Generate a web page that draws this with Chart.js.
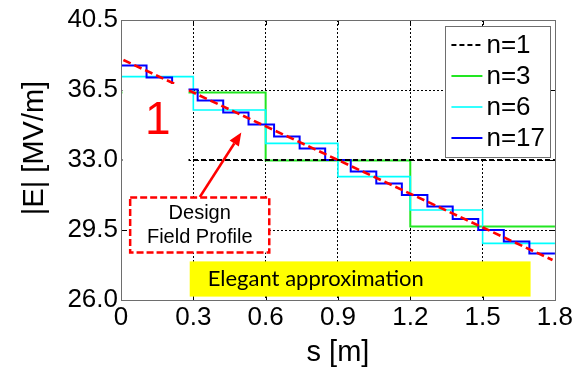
<!DOCTYPE html>
<html>
<head>
<meta charset="utf-8">
<script src="https://cdn.jsdelivr.net/npm/chart.js@4"></script>
<style>
  html, body { margin: 0; padding: 0; background: #fff; }
  #wrap { width: 575px; height: 367px; }
</style>
</head>
<body>
<div id="wrap"><canvas id="fieldChart"></canvas></div>
<script>
const sTickLabels = ['0', '0.3', '0.6', '0.9', '1.2', '1.5', '1.8'];
const eTickLabels = ['26.0', '29.5', '33.0', '36.5', '40.5'];

// design field profile (straight line)
const designS = [0.01, 1.79];
const designE = [38.0, 28.0];

// piecewise-constant approximations: segment edges + level of each segment
const n1Edges = [0, 1.8];
const n1Values = [33.0];
const n3Edges = [0, 0.6, 1.2, 1.8];
const n3Values = [36.38, 32.97, 29.67];
const n6Edges = [0, 0.3, 0.6, 0.9, 1.2, 1.5, 1.8];
const n6Values = [37.17, 35.5, 33.83, 32.17, 30.5, 28.83];
const n17Edges = [0, 0.106, 0.212, 0.318, 0.424, 0.529, 0.635, 0.741, 0.847,
  0.953, 1.059, 1.165, 1.271, 1.376, 1.482, 1.588, 1.694, 1.8];
const n17Values = [37.72, 37.13, 36.53, 35.97, 35.37, 34.77, 34.17, 33.58, 33.0,
  32.42, 31.83, 31.25, 30.67, 30.05, 29.5, 28.92, 28.33];

const FONT = '"Liberation Sans", Arial, sans-serif';

const stepPoints = (edges, values) =>
  values.map((v, i) => ({ x: edges[i], y: v }))
    .concat([{ x: edges[edges.length - 1], y: values[values.length - 1] }]);

const legendItems = ['n=1', 'n=3', 'n=6', 'n=17'];

// frame box + inward tick marks, like a matlab axes
const framePlugin = {
  id: 'frame',
  afterDatasetsDraw(chart) {
    const { ctx, chartArea: a, scales } = chart;
    ctx.save();
    ctx.strokeStyle = '#000';
    ctx.lineWidth = 1;
    ctx.beginPath();
    scales.y.ticks.forEach((t, i) => {
      if (i === 0 || i === scales.y.ticks.length - 1) return;
      const y = Math.round(scales.y.getPixelForValue(t.value)) + 0.5;
      ctx.moveTo(a.left, y); ctx.lineTo(a.left + 5, y);
      ctx.moveTo(a.right, y); ctx.lineTo(a.right - 5, y);
    });
    scales.x.ticks.forEach((t, i) => {
      if (i === 0 || i === scales.x.ticks.length - 1) return;
      const x = Math.round(scales.x.getPixelForValue(t.value)) + 0.5;
      ctx.moveTo(x, a.top); ctx.lineTo(x, a.top + 5);
      ctx.moveTo(x, a.bottom); ctx.lineTo(x, a.bottom - 5);
    });
    ctx.stroke();
    ctx.strokeStyle = '#6e6e6e';
    ctx.strokeRect(Math.round(a.left) + 0.5, Math.round(a.top) + 0.5,
      Math.round(a.right - a.left), Math.round(a.bottom - a.top));
    ctx.restore();
  }
};

const notesPlugin = {
  id: 'notes',
  afterDatasetsDraw(chart) {
    const { ctx, chartArea: a, scales: { x, y } } = chart;
    const px = (v) => x.getPixelForValue(v);
    const py = (v) => y.getPixelForValue(v);
    ctx.save();

    // pasted label "1" hides part of the curves
    ctx.fillStyle = '#fff';
    ctx.fillRect(px(0.006), py(36.8), px(0.28) - px(0.006), py(31.5) - py(36.8));
    ctx.fillStyle = '#ff0000';
    ctx.font = '46px ' + FONT;
    ctx.textAlign = 'center';
    ctx.textBaseline = 'middle';
    ctx.fillText('1', px(0.153), py(34.95));

    // arrow
    const x1 = px(0.327), y1 = py(31.15), x2 = px(0.499), y2 = py(34.37);
    const ang = Math.atan2(y2 - y1, x2 - x1);
    const head = 13;
    ctx.strokeStyle = '#ff0000';
    ctx.lineWidth = 2.5;
    ctx.beginPath();
    ctx.moveTo(x1, y1);
    ctx.lineTo(x2 - Math.cos(ang) * head, y2 - Math.sin(ang) * head);
    ctx.stroke();
    ctx.beginPath();
    ctx.moveTo(x2, y2);
    ctx.lineTo(x2 - Math.cos(ang) * head + Math.sin(ang) * 5.5, y2 - Math.sin(ang) * head - Math.cos(ang) * 5.5);
    ctx.lineTo(x2 - Math.cos(ang) * head - Math.sin(ang) * 5.5, y2 - Math.sin(ang) * head + Math.cos(ang) * 5.5);
    ctx.closePath();
    ctx.fill();

    // dashed "Design Field Profile" box
    const bx = px(0.038), by = py(31.13), bw = px(0.615) - bx, bh = py(28.37) - by;
    ctx.fillStyle = '#fff';
    ctx.fillRect(bx, by, bw, bh);
    ctx.setLineDash([7, 3]);
    ctx.strokeRect(bx, by, bw, bh);
    ctx.setLineDash([]);
    ctx.fillStyle = '#000';
    ctx.font = '20px ' + FONT;
    ctx.fillText('Design', bx + bw / 2, by + 16);
    ctx.fillText('Field Profile', bx + bw / 2, by + 40);

    // yellow banner
    const yx = px(0.285), yy = py(27.93);
    ctx.fillStyle = '#ffff00';
    ctx.fillRect(yx, yy, px(1.699) - yx, py(26.17) - yy);
    ctx.fillStyle = '#000';
    ctx.font = '22px Lato, "Open Sans", sans-serif';
    ctx.textAlign = 'left';
    ctx.fillText('Elegant approximation', yx + 18, (yy + py(26.17)) / 2);

    // legend
    const lw = 105, lh = 131;
    const lx = a.right - lw - 4.5, ly = a.top + 6;
    ctx.fillStyle = '#fff';
    ctx.fillRect(lx, ly, lw, lh);
    ctx.strokeStyle = '#6e6e6e';
    ctx.lineWidth = 1;
    ctx.strokeRect(Math.round(lx) + 0.5, Math.round(ly) + 0.5, lw, lh);
    ctx.font = '26px ' + FONT;
    legendItems.forEach((label, i) => {
      const ds = chart.data.datasets.find((d) => d.label === label);
      const ry = ly + 19 + i * 31;
      ctx.strokeStyle = ds.borderColor;
      ctx.lineWidth = ds.borderWidth;
      ctx.setLineDash(ds.borderDash || []);
      ctx.beginPath();
      ctx.moveTo(lx + 6, ry);
      ctx.lineTo(lx + 37, ry);
      ctx.stroke();
      ctx.setLineDash([]);
      ctx.fillStyle = '#000';
      ctx.fillText(label, lx + 41, ry + 1);
    });

    // y axis title
    ctx.translate(35, 148);
    ctx.rotate(-Math.PI / 2);
    ctx.textAlign = 'center';
    ctx.font = '29px ' + FONT;
    ctx.fillText('|E| [MV/m]', 0, 0);
    ctx.restore();
  }
};

const ctx = document.getElementById('fieldChart');
new Chart(ctx, {
  type: 'line',
  data: {
    datasets: [
      {
        label: 'Design',
        data: designS.map((s, i) => ({ x: s, y: designE[i] })),
        borderColor: '#ff0000',
        borderWidth: 2.6,
        borderDash: [8, 4],
      },
      {
        label: 'n=1',
        data: stepPoints(n1Edges, n1Values),
        borderColor: '#000000',
        borderWidth: 2.2,
        borderDash: [5, 3],
      },
      {
        label: 'n=17',
        data: stepPoints(n17Edges, n17Values),
        borderColor: '#0000ff',
        borderWidth: 2,
        stepped: 'before',
      },
      {
        label: 'n=6',
        data: stepPoints(n6Edges, n6Values),
        borderColor: '#00ffff',
        borderWidth: 1.6,
        stepped: 'before',
      },
      {
        label: 'n=3',
        data: stepPoints(n3Edges, n3Values),
        borderColor: '#22e622',
        borderWidth: 2,
        stepped: 'before',
      },
    ],
  },
  options: {
    responsive: true,
    maintainAspectRatio: false,
    animation: false,
    elements: { point: { radius: 0 }, line: { tension: 0 } },
    layout: { padding: { top: 20, right: 19, left: 0, bottom: 0 } },
    plugins: { legend: { display: false }, tooltip: { enabled: false } },
    scales: {
      x: {
        type: 'linear',
        min: 0,
        max: 1.8,
        afterFit: (s) => { s.height = 67; },
        ticks: {
          stepSize: 0.3,
          autoSkip: false,
          maxRotation: 0,
          padding: 2,
          color: '#000',
          font: { family: FONT, size: 26 },
          callback: (v, i) => sTickLabels[i],
        },
        grid: {
          drawTicks: false,
          lineWidth: 1,
          color: (c) => (c.index === 0 || c.index === sTickLabels.length - 1) ? 'rgba(0,0,0,0)' : '#000',
        },
        border: { display: false, dash: [2, 2] },
        title: {
          display: true,
          text: 's [m]',
          color: '#000',
          font: { family: FONT, size: 29, lineHeight: 1 },
          padding: 0,
        },
      },
      y: {
        min: 26,
        max: 40,
        afterFit: (s) => { s.width = 121; },
        ticks: {
          stepSize: 3.5,
          padding: 3,
          color: '#000',
          font: { family: FONT, size: 26 },
          callback: (v, i) => eTickLabels[i],
        },
        grid: {
          drawTicks: false,
          lineWidth: 1,
          color: (c) => (c.index === 0 || c.index === eTickLabels.length - 1) ? 'rgba(0,0,0,0)' : '#000',
        },
        border: { display: false, dash: [2, 2] },
      },
    },
  },
  plugins: [framePlugin, notesPlugin],
});
</script>
</body>
</html>
